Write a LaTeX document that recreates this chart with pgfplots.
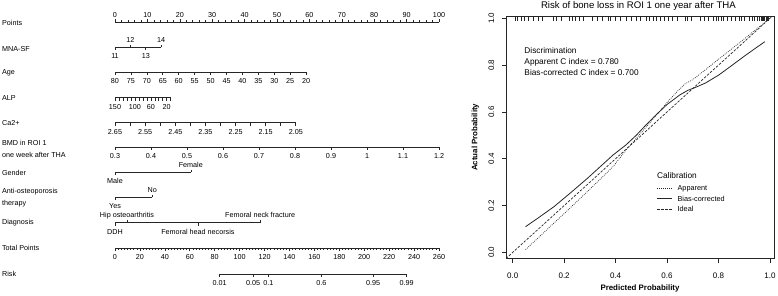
\documentclass[border=0pt]{standalone}
\usepackage{fontspec}
\setmainfont{Liberation Sans}
\usepackage{pgfplots}
\pgfplotsset{compat=1.18}
\newcommand\lbl{\fontsize{7.2}{8.5}\selectfont}
\newcommand\tfont{\fontsize{8}{9.5}\selectfont}
\newcommand\dfont{\fontsize{8.3}{10}\selectfont}
\newcommand\legf{\fontsize{7.3}{8.5}\selectfont}
\pgfdeclareplotmark{tu}{\pgfpathmoveto{\pgfpointorigin}\pgfpathlineto{\pgfpoint{0pt}{2.8pt}}\pgfusepathqstroke}
\pgfdeclareplotmark{td}{\pgfpathmoveto{\pgfpointorigin}\pgfpathlineto{\pgfpoint{0pt}{-2.8pt}}\pgfusepathqstroke}
\pgfdeclareplotmark{tus}{\pgfpathmoveto{\pgfpointorigin}\pgfpathlineto{\pgfpoint{0pt}{1.8pt}}\pgfusepathqstroke}
\pgfdeclareplotmark{tds}{\pgfpathmoveto{\pgfpointorigin}\pgfpathlineto{\pgfpoint{0pt}{-1.8pt}}\pgfusepathqstroke}
\pgfdeclareplotmark{rug}{\pgfpathmoveto{\pgfpointorigin}\pgfpathlineto{\pgfpoint{0pt}{-4.5pt}}\pgfusepathqstroke}
\pgfplotsset{
  nl/.style={black!85, line width=0.7pt, mark=none},
  MU/.style={black!85, only marks, mark=tu, mark options={line width=0.6pt}},
  MD/.style={black!85, only marks, mark=td, mark options={line width=0.6pt}},
  mU/.style={black!85, only marks, mark=tus, mark options={line width=0.6pt}},
  mD/.style={black!85, only marks, mark=tds, mark options={line width=0.6pt}},
  labU/.style={nodes near coords, point meta=explicit symbolic,
    nodes near coords style={anchor=base, inner sep=0pt, yshift=4.9pt, font=\lbl, text=black}},
  labD/.style={nodes near coords, point meta=explicit symbolic,
    nodes near coords style={anchor=base, inner sep=0pt, yshift=-11.6pt, font=\lbl, text=black}},
}
\begin{document}
\begin{tikzpicture}
\path[use as bounding box] (0,0) rectangle (778pt,-295pt);
% ---------------- Nomogram ----------------
\begin{axis}[at={(115pt,0pt)}, anchor=north west, scale only axis,
  width=324pt, height=295pt, xmin=0, xmax=100, ymin=0, ymax=295,
  y dir=reverse, hide axis, clip=false]
% row labels
\node[anchor=west, inner sep=0pt, font=\lbl] at (axis cs:-34.9,23.3) {Points};
\node[anchor=west, inner sep=0pt, font=\lbl] at (axis cs:-34.9,48.7) {MNA-SF};
\node[anchor=west, inner sep=0pt, font=\lbl] at (axis cs:-34.9,72.7) {Age};
\node[anchor=west, inner sep=0pt, font=\lbl] at (axis cs:-34.9,98.3) {ALP};
\node[anchor=west, inner sep=0pt, font=\lbl] at (axis cs:-34.9,123.3) {Ca2+};
\node[anchor=west, inner sep=0pt, font=\lbl] at (axis cs:-34.9,143.3) {BMD in ROI 1};
\node[anchor=west, inner sep=0pt, font=\lbl] at (axis cs:-34.9,155) {one week after THA};
\node[anchor=west, inner sep=0pt, font=\lbl] at (axis cs:-34.9,173.3) {Gender};
\node[anchor=west, inner sep=0pt, font=\lbl] at (axis cs:-34.9,191.7) {Anti-osteoporosis};
\node[anchor=west, inner sep=0pt, font=\lbl] at (axis cs:-34.9,203.3) {therapy};
\node[anchor=west, inner sep=0pt, font=\lbl] at (axis cs:-34.9,222.7) {Diagnosis};
\node[anchor=west, inner sep=0pt, font=\lbl] at (axis cs:-34.9,248.3) {Total Points};
\node[anchor=west, inner sep=0pt, font=\lbl] at (axis cs:-34.9,274) {Risk};
% Points
\addplot[nl] coordinates {(0,22)(100,22)};
\addplot[MU,labU] coordinates {(0,22)[0] (10,22)[10] (20,22)[20] (30,22)[30] (40,22)[40] (50,22)[50] (60,22)[60] (70,22)[70] (80,22)[80] (90,22)[90] (100,22)[100]};
\addplot[mU] coordinates {(2,22)(4,22)(6,22)(8,22)(12,22)(14,22)(16,22)(18,22)(22,22)(24,22)(26,22)(28,22)(32,22)(34,22)(36,22)(38,22)(42,22)(44,22)(46,22)(48,22)(52,22)(54,22)(56,22)(58,22)(62,22)(64,22)(66,22)(68,22)(72,22)(74,22)(76,22)(78,22)(82,22)(84,22)(86,22)(88,22)(92,22)(94,22)(96,22)(98,22)};
% MNA-SF
\addplot[nl] coordinates {(0,47.3)(14.25,47.3)};
\addplot[MD,labD] coordinates {(0,47.3)[11] (9.5,47.3)[13]};
\addplot[MU,labU] coordinates {(4.75,47.3)[12] (14.25,47.3)[14]};
% Age
\addplot[nl] coordinates {(0,72.3)(59,72.3)};
\addplot[MD,labD] coordinates {(0,72.3)[80] (4.917,72.3)[75] (9.833,72.3)[70] (14.75,72.3)[65] (19.667,72.3)[60] (24.583,72.3)[55] (29.5,72.3)[50] (34.417,72.3)[45] (39.333,72.3)[40] (44.25,72.3)[35] (49.167,72.3)[30] (54.083,72.3)[25] (59,72.3)[20]};
% ALP
\addplot[nl] coordinates {(0,97.7)(17.2,97.7)};
\addplot[MD,labD] coordinates {(0,97.7)[150] (6.143,97.7)[100] (11.057,97.7)[60] (15.971,97.7)[20]};
\addplot[MD] coordinates {(1.229,97.7)(2.457,97.7)(3.686,97.7)(4.914,97.7)(7.371,97.7)(8.6,97.7)(9.829,97.7)(12.286,97.7)(13.514,97.7)(14.743,97.7)(17.2,97.7)};
% Ca2+
\addplot[nl] coordinates {(0,122.7)(55.8,122.7)};
\addplot[MD,labD] coordinates {(0,122.7)[2.65] (9.3,122.7)[2.55] (18.6,122.7)[2.45] (27.9,122.7)[2.35] (37.2,122.7)[2.25] (46.5,122.7)[2.15] (55.8,122.7)[2.05]};
\addplot[MD] coordinates {(4.65,122.7)(13.95,122.7)(23.25,122.7)(32.55,122.7)(41.85,122.7)(51.15,122.7)};
% BMD
\addplot[nl] coordinates {(0,147.3)(100,147.3)};
\addplot[MD,labD] coordinates {(0,147.3)[0.3] (11.111,147.3)[0.4] (22.222,147.3)[0.5] (33.333,147.3)[0.6] (44.444,147.3)[0.7] (55.556,147.3)[0.8] (66.667,147.3)[0.9] (77.778,147.3)[1] (88.889,147.3)[1.1] (100,147.3)[1.2]};
% Gender
\addplot[nl] coordinates {(0,172.3)(23.4,172.3)};
\addplot[MD,labD] coordinates {(0,172.3)[Male]};
\addplot[MU,labU] coordinates {(23.4,172.3)[Female]};
% Anti-osteoporosis therapy
\addplot[nl] coordinates {(0,197.3)(11.5,197.3)};
\addplot[MD,labD] coordinates {(0,197.3)[Yes]};
\addplot[MU,labU] coordinates {(11.5,197.3)[No]};
% Diagnosis
\addplot[nl] coordinates {(0,222.7)(44.8,222.7)};
\addplot[MD,labD] coordinates {(0,222.7)[DDH] (25.6,222.7)[Femoral head necorsis]};
\addplot[MU,labU] coordinates {(3.7,222.7)[Hip osteoarthritis] (44.8,222.7)[Femoral neck fracture]};
% Total points (0-260)
\addplot[nl, x filter/.expression={x/2.6}] coordinates {(0,248.3)(260,248.3)};
\addplot[MD,labD, x filter/.expression={x/2.6}] coordinates {(0,248.3)[0] (20,248.3)[20] (40,248.3)[40] (60,248.3)[60] (80,248.3)[80] (100,248.3)[100] (120,248.3)[120] (140,248.3)[140] (160,248.3)[160] (180,248.3)[180] (200,248.3)[200] (220,248.3)[220] (240,248.3)[240] (260,248.3)[260]};
\addplot[mD, x filter/.expression={x/2.6}] coordinates {
(2.5,248.3)(5,248.3)(7.5,248.3)(10,248.3)(12.5,248.3)(15,248.3)(17.5,248.3)
(22.5,248.3)(25,248.3)(27.5,248.3)(30,248.3)(32.5,248.3)(35,248.3)(37.5,248.3)
(42.5,248.3)(45,248.3)(47.5,248.3)(50,248.3)(52.5,248.3)(55,248.3)(57.5,248.3)
(62.5,248.3)(65,248.3)(67.5,248.3)(70,248.3)(72.5,248.3)(75,248.3)(77.5,248.3)
(82.5,248.3)(85,248.3)(87.5,248.3)(90,248.3)(92.5,248.3)(95,248.3)(97.5,248.3)
(102.5,248.3)(105,248.3)(107.5,248.3)(110,248.3)(112.5,248.3)(115,248.3)(117.5,248.3)
(122.5,248.3)(125,248.3)(127.5,248.3)(130,248.3)(132.5,248.3)(135,248.3)(137.5,248.3)
(142.5,248.3)(145,248.3)(147.5,248.3)(150,248.3)(152.5,248.3)(155,248.3)(157.5,248.3)
(162.5,248.3)(165,248.3)(167.5,248.3)(170,248.3)(172.5,248.3)(175,248.3)(177.5,248.3)
(182.5,248.3)(185,248.3)(187.5,248.3)(190,248.3)(192.5,248.3)(195,248.3)(197.5,248.3)
(202.5,248.3)(205,248.3)(207.5,248.3)(210,248.3)(212.5,248.3)(215,248.3)(217.5,248.3)
(222.5,248.3)(225,248.3)(227.5,248.3)(230,248.3)(232.5,248.3)(235,248.3)(237.5,248.3)
(242.5,248.3)(245,248.3)(247.5,248.3)(250,248.3)(252.5,248.3)(255,248.3)(257.5,248.3)};
% Risk (positions in total points)
\addplot[nl, x filter/.expression={x/2.6}] coordinates {(83.9,274)(234.1,274)};
\addplot[MD,labD, x filter/.expression={x/2.6}] coordinates {(83.9,274)[0.01] (110.9,274)[0.05] (123.1,274)[0.1] (165.6,274)[0.6] (207.1,274)[0.95] (234.1,274)[0.99]};
\end{axis}
% ---------------- Calibration plot ----------------
\begin{axis}[at={(506pt,-16pt)}, anchor=north west, scale only axis,
  width=268pt, height=242.5pt,
  xmin=-0.026, xmax=1.016, ymin=-0.026, ymax=1.01,
  axis line style={line width=0.7pt, black!85},
  tick align=outside, tick pos=left, major tick length=4pt,
  every tick/.style={black!85, line width=0.7pt},
  xtick={0,0.2,0.4,0.6,0.8,1}, xticklabels={0.0,0.2,0.4,0.6,0.8,1.0},
  ytick={0,0.2,0.4,0.6,0.8,1}, yticklabels={0.0,0.2,0.4,0.6,0.8,1.0},
  ticklabel style={font=\tfont},
  xticklabel style={anchor=base, yshift=-16.2pt},
  yticklabel style={xshift=-8pt, rotate=90, anchor=base},
  every axis title shift=0pt,
  title={Risk of bone loss in ROI 1 one year after THA},
  title style={at={(axis description cs:0.494,1)}, anchor=base, yshift=7.5pt, font=\fontsize{9.6}{11}\selectfont},
  xlabel={Predicted Probability},
  xlabel style={at={(axis description cs:0.5,-0.1237)}, anchor=center, font=\fontsize{7.9}{9}\selectfont\bfseries},
  ylabel={Actual Probability},
  ylabel style={at={(axis description cs:-0.114,0.5)}, anchor=center, font=\fontsize{7.9}{9}\selectfont\bfseries},
  legend style={at={(0.5627,0.311)}, anchor=north west, draw=none, fill=none,
    font=\legf, inner sep=0pt, row sep=0pt, column sep=3.6pt,
    nodes={inner sep=1.2pt, text height=6.2pt, text depth=1.8pt}},
  legend cell align=left,
  legend image code/.code={\draw[#1] (0pt,0pt) -- (15pt,0pt);},
]
\addplot[black!85, line width=0.7pt, dash pattern=on 0.8pt off 1.2pt] coordinates {
(0.05,0.012)(0.10,0.063)(0.15,0.115)(0.21,0.176)(0.30,0.27)(0.39,0.366)(0.44,0.437)
(0.48,0.487)(0.52,0.537)(0.56,0.588)(0.60,0.64)(0.64,0.688)(0.67,0.72)(0.70,0.738)
(0.75,0.781)(0.80,0.825)(0.85,0.868)(0.90,0.912)(0.95,0.956)(1.0,1.0)};
\addlegendentry{Apparent}
\addplot[black!85, line width=0.8pt] coordinates {
(0.05,0.11)(0.10,0.148)(0.16,0.195)(0.22,0.25)(0.29,0.316)(0.35,0.376)(0.39,0.416)
(0.44,0.459)(0.48,0.50)(0.51,0.535)(0.55,0.58)(0.60,0.632)(0.65,0.673)(0.68,0.692)
(0.715,0.707)(0.75,0.724)(0.80,0.757)(0.85,0.797)(0.90,0.838)(0.95,0.877)(0.98,0.90)};
\addlegendentry{Bias-corrected}
\addplot[black!85, line width=0.7pt, dash pattern=on 2.5pt off 1.5pt] coordinates {(-0.026,-0.026)(1.016,1.016)};
\addlegendentry{Ideal}
\addplot[black!85, only marks, mark=rug, mark options={line width=0.7pt}, forget plot] coordinates {
(0.01,1.01)(0.02,1.01)(0.035,1.01)(0.045,1.01)(0.06,1.01)(0.08,1.01)(0.10,1.01)(0.115,1.01)
(0.16,1.01)(0.17,1.01)(0.19,1.01)(0.22,1.01)(0.23,1.01)(0.245,1.01)(0.26,1.01)(0.275,1.01)
(0.31,1.01)(0.33,1.01)(0.35,1.01)(0.37,1.01)(0.38,1.01)(0.40,1.01)(0.42,1.01)(0.44,1.01)
(0.46,1.01)(0.48,1.01)(0.495,1.01)(0.52,1.01)(0.53,1.01)(0.545,1.01)(0.56,1.01)(0.575,1.01)
(0.59,1.01)(0.605,1.01)(0.62,1.01)(0.64,1.01)(0.67,1.01)(0.68,1.01)(0.695,1.01)(0.73,1.01)
(0.745,1.01)(0.76,1.01)(0.78,1.01)(0.79,1.01)(0.80,1.01)(0.81,1.01)(0.82,1.01)(0.835,1.01)
(0.85,1.01)(0.865,1.01)(0.88,1.01)(0.89,1.01)(0.90,1.01)(0.92,1.01)(0.93,1.01)(0.94,1.01)
(0.95,1.01)(0.96,1.01)(0.965,1.01)(0.97,1.01)(0.975,1.01)(0.98,1.01)(0.985,1.01)(0.99,1.01)(0.995,1.01)};
\node[anchor=base west, inner sep=0pt, font=\dfont] at (axis cs:0.045,0.8517) {Discrimination};
\node[anchor=base west, inner sep=0pt, font=\dfont] at (axis cs:0.045,0.8047) {Apparent C index = 0.780};
\node[anchor=base west, inner sep=0pt, font=\dfont] at (axis cs:0.045,0.7577) {Bias-corrected C index = 0.700};
\node[anchor=base west, inner sep=0pt, font=\dfont] at (axis cs:0.5608,0.3175) {Calibration};
\end{axis}
\end{tikzpicture}
\end{document}
